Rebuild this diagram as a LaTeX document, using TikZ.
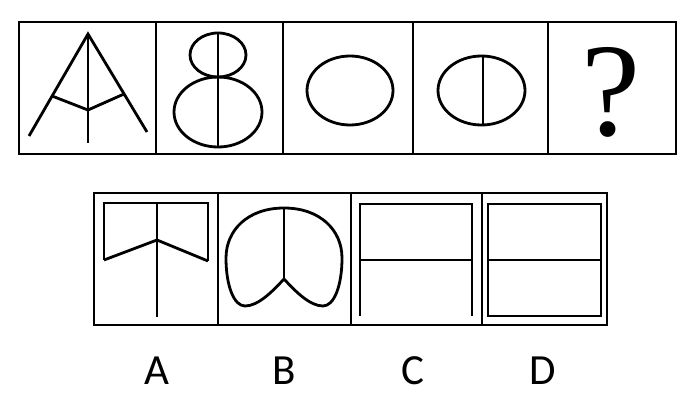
\documentclass[tikz,border=0pt]{standalone}
\usepackage{fontspec}
\newfontfamily\labelfont{Carlito}
\newfontfamily\markfont{Liberation Serif}
\begin{document}
\begin{tikzpicture}[x=1pt,y=-1pt,line width=2.8pt,
  optlabel/.style={font=\labelfont\fontsize{43}{43}\selectfont,inner sep=0pt}]
\useasboundingbox (0,0) rectangle (700,401);

% top row of cells
\draw (19,22) rectangle (676,154);
\foreach \x in {156,283,413,548}
\draw (\x,22) -- (\x,154);

% cell 1
\draw (29,136) -- (88,34) -- (147,132);
\draw (88,34) -- (88,143);
\draw (52,96) -- (88,110) -- (124,94);

% cell 2
\draw (218,55) ellipse (28 and 22);
\draw (218,112) ellipse (44 and 35);
\draw (218,33) -- (218,147);

% cell 3 and 4
\draw (350,90.5) ellipse (43 and 34.5);
\draw (481.5,90.5) ellipse (43.5 and 34.5);
\draw (483,56) -- (483,125);

% cell 5
\node[font=\markfont\fontsize{133}{133}\selectfont,inner sep=0pt] (qmark) at (611,92) {?};

% answer cells
\foreach \a/\b in {94/218,218/351,351/482,482/607}
\draw (\a,193) rectangle (\b,325);

% A
\draw (104,260) -- (104,203) -- (208,203) -- (208,261);
\draw (157,203) -- (157,317);
\draw (104,260) -- (157,240) -- (208,261);

% B
\draw (284,208) -- (284,279);
\draw[line join=round] (284,208) .. controls (248,208) and (226,230) .. (226,258)
  .. controls (226,286) and (234,306) .. (245,306)
  .. controls (258,306) and (272,292) .. (284,279)
  .. controls (296,292) and (310,306) .. (323,306)
  .. controls (334,306) and (342,286) .. (342,258)
  .. controls (342,230) and (320,208) .. (284,208) -- cycle;

% C
\draw (360,316) -- (360,204) -- (472,204) -- (472,316);
\draw (360,260) -- (472,260);

% D
\draw (488,204) rectangle (601,316);
\draw (488,260) -- (601,260);

% labels
\foreach \l/\x in {A/157,B/284,C/413,D/543}
\node[optlabel] (lab\l) at (\x,371) {\l};
\end{tikzpicture}
\end{document}
